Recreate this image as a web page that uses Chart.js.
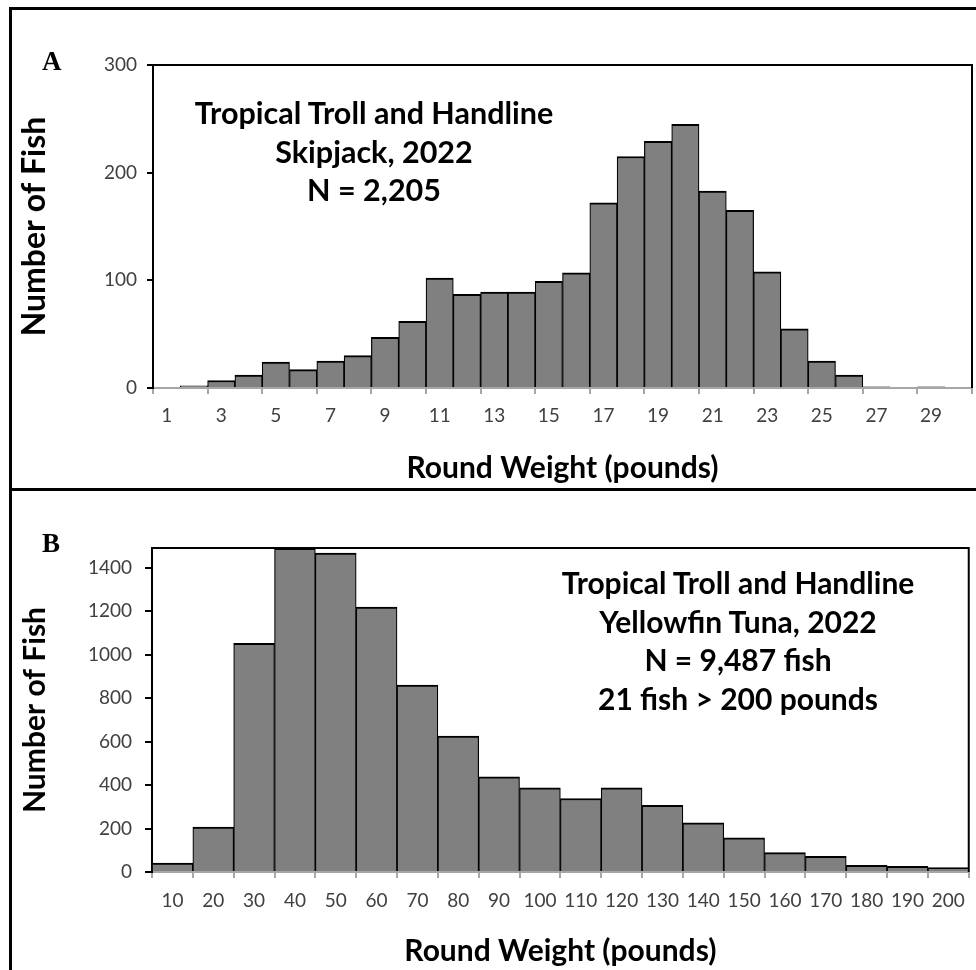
<!DOCTYPE html>
<html>
<head>
<meta charset="utf-8">
<script src="https://cdn.jsdelivr.net/npm/chart.js@4.4.1/dist/chart.umd.min.js"></script>
<style>
  body { margin: 0; background: #fff; }
  #page { position: relative; width: 976px; height: 970px; overflow: hidden; background: #fff; }
  canvas { position: absolute; left: 0; }
  .frame { position: absolute; border-left: 3px solid #000; border-top: 3px solid #000; left: 9px; width: 980px; }
  .letter { position: absolute; font-family: "Liberation Serif", serif; font-weight: bold; font-size: 27px; line-height: 27px; }
  .note { position: absolute; font-family: Lato, sans-serif; font-weight: bold; font-size: 30.5px; line-height: 38.7px; text-align: center; white-space: nowrap; transform: translateX(-50%); }
</style>
</head>
<body>
<div id="page">
  <canvas id="CHART_A" width="976" height="490" style="top:0"></canvas>
  <canvas id="CHART_B" width="976" height="480" style="top:490px"></canvas>
  <div class="frame" style="top:7px; height:980px"></div>
  <div class="frame" style="top:488px; height:500px"></div>
  <div class="letter" style="left:42px; top:48px">A</div>
  <div class="letter" style="left:42px; top:530px">B</div>
  <div class="note" style="left:374px; top:93px">Tropical Troll and Handline<br>Skipjack, 2022<br>N = 2,205</div>
  <div class="note" style="left:738px; top:563px; font-size:30px">Tropical Troll and Handline<br>Yellowfin Tuna, 2022<br>N = 9,487 fish<br>21 fish &gt; 200 pounds</div>
</div>
<script>
// DATA

// A: skipjack, 1 lb bins
const skipCats = ['1', '2', '3', '4', '5', '6', '7', '8', '9', '10', '11', '12', '13', '14', '15',
    '16', '17', '18', '19', '20', '21', '22', '23', '24', '25', '26', '27', '28', '29', '30'];
const skipCounts = [0, 2, 7, 12, 24, 17, 25, 30, 47, 62, 102, 87, 89, 89, 99,
    107, 172, 215, 229, 245, 183, 165, 108, 55, 25, 12, 1, 0, 1, 0];
const skipTicks = [0, 100, 200, 300];

// B: yellowfin, 10 lb bins
const yftCats = ['10', '20', '30', '40', '50', '60', '70', '80', '90', '100',
    '110', '120', '130', '140', '150', '160', '170', '180', '190', '200'];
const yftCounts = [41, 207, 1052, 1488, 1467, 1218, 860, 625, 438, 387,
    338, 387, 307, 226, 157, 89, 72, 31, 26, 20];
const yftTicks = [0, 200, 400, 600, 800, 1000, 1200, 1400];

// STYLE

const tickFont = { family: 'Lato', size: 19 };
const xTitleFont = { family: 'Lato', size: 30, weight: 'bold' };
const tickGrey = '#404040';
const axisGrey = '#a6a6a6';

// top + right edges of the plot box (bottom is the grey axis)
const plotBox = {
    id: 'plotBox',
    beforeDatasetsDraw(chart) {
        const a = chart.chartArea;
        const ctx = chart.ctx;
        ctx.save();
        ctx.strokeStyle = '#000';
        ctx.lineWidth = 2;
        ctx.beginPath();
        ctx.moveTo(a.left, a.top);
        ctx.lineTo(a.right, a.top);
        ctx.lineTo(a.right, a.bottom);
        ctx.stroke();
        ctx.restore();
    }
};

function makeChart(canvas, cats, counts, yMax, yTicks, everyOther, box) {
    return new Chart(canvas, {
        type: 'bar',
        data: {
            labels: cats,
            datasets: [{
                data: counts,
                backgroundColor: '#808080',
                borderColor: '#000',
                borderWidth: { top: 2, left: 1.2, right: 1.2, bottom: 0 },
                barPercentage: 1,
                categoryPercentage: 1,
            }],
        },
        options: {
            responsive: false,
            animation: false,
            layout: { padding: { top: box.top, right: box.right, left: 0, bottom: 0 } },
            plugins: { legend: { display: false }, tooltip: { enabled: false } },
            scales: {
                x: {
                    offset: true,
                    grid: {
                        offset: true,
                        drawOnChartArea: false,
                        tickLength: 6,
                        lineWidth: 2,
                        tickColor: ctx => (!everyOther || ctx.index === undefined || ctx.index % 2 === 0) ? axisGrey : 'transparent',
                    },
                    border: { color: axisGrey, width: 2 },
                    ticks: {
                        autoSkip: false,
                        maxRotation: 0,
                        padding: box.xTickPad,
                        color: tickGrey,
                        font: tickFont,
                        callback: (v, i) => (!everyOther || i % 2 === 0) ? cats[i] : '',
                    },
                    title: { display: true, text: 'Round Weight (pounds)', color: '#000', font: xTitleFont, padding: { bottom: box.xTitlePad, top: 0 } },
                    afterFit: s => { s.height = box.xHeight; },
                },
                y: {
                    min: 0,
                    max: yMax,
                    afterBuildTicks: s => { s.ticks = yTicks.map(v => ({ value: v })); },
                    grid: { drawOnChartArea: false, tickLength: box.yTickLen, lineWidth: 2, tickColor: '#000' },
                    border: { color: '#000', width: 2 },
                    ticks: { padding: box.yTickPad, color: tickGrey, font: tickFont, callback: v => String(v) },
                    title: {
                        display: true, text: 'Number of Fish', color: '#000',
                        font: { family: 'Lato', size: box.yTitleSize, weight: 'bold' },
                        padding: { top: 35 - box.yTitleSize * 0.6, bottom: 0 },
                    },
                    afterFit: s => { s.width = box.yWidth; },
                },
            },
        },
        plugins: [plotBox],
    });
}

const chartA = makeChart(document.getElementById('CHART_A'), skipCats, skipCounts, 300, skipTicks, true,
    { top: 65, right: 4, xHeight: 102, yWidth: 153, xTickPad: 10, xTitlePad: 4, yTickLen: 6, yTickPad: 10, yTitleSize: 32 });
const chartB = makeChart(document.getElementById('CHART_B'), yftCats, yftCounts, 1490, yftTicks, false,
    { top: 58, right: 6, xHeight: 98, yWidth: 152, xTickPad: 11, xTitlePad: 1, yTickLen: 7, yTickPad: 13, yTitleSize: 30 });
</script>
</body>
</html>
